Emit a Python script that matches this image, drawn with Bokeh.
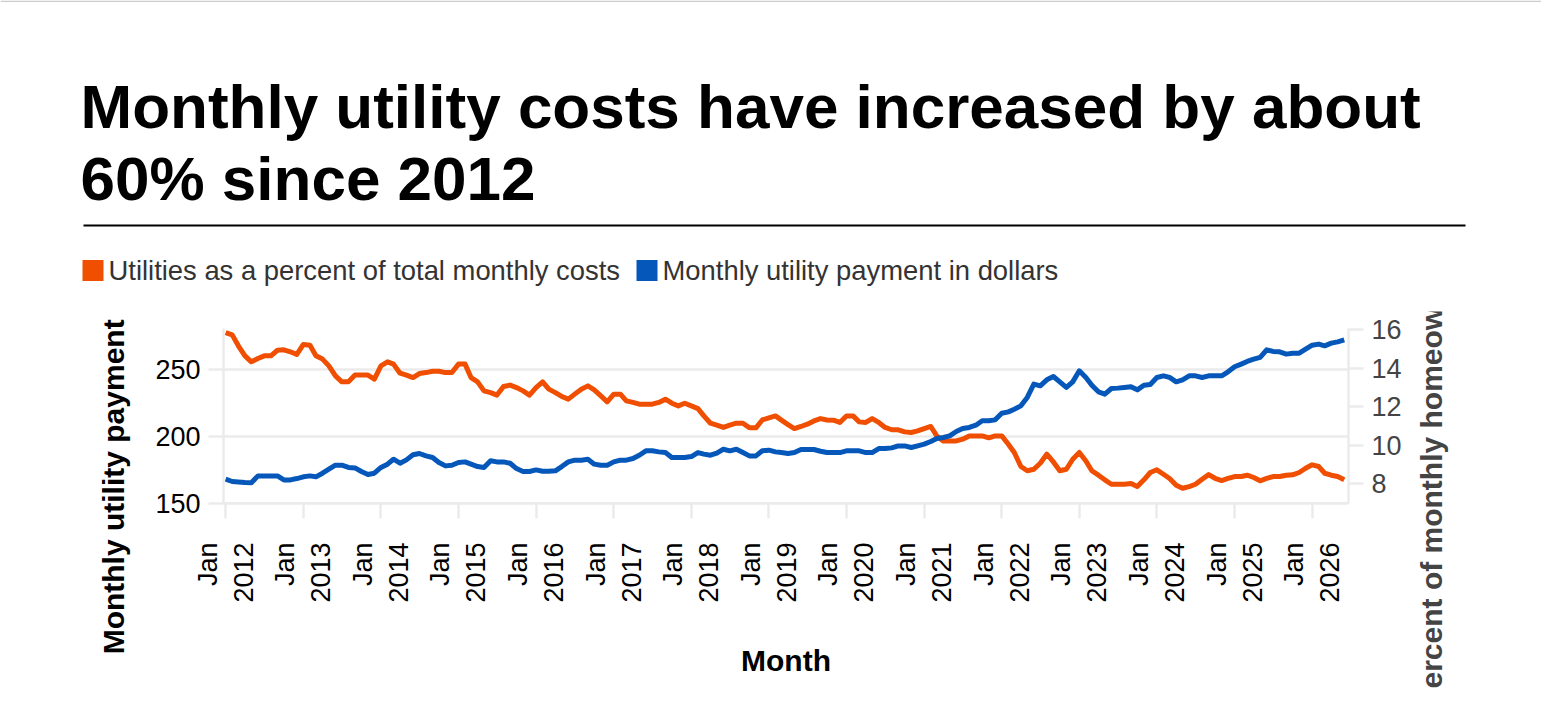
import math
import pandas as pd
from bokeh.plotting import figure
from bokeh.layouts import column, row
from bokeh.models import Range1d, LinearAxis, FixedTicker, DatetimeTickFormatter
from bokeh.core.properties import value
from bokeh.embed import file_html
from bokeh.resources import INLINE

# ---- data -------------------------------------------------------------
title_lines = ["Monthly utility costs have increased by about", "60% since 2012"]
series_names = ["Utilities as a percent of total monthly costs",
                "Monthly utility payment in dollars"]
left_title = "Monthly utility payment in dollars"
right_title = "Percent of monthly homeownership costs"
x_title = "Month"
start_month = "2012-01-01"
tick_years = list(range(2012, 2027))
dollar_ticks = [150, 200, 250]
pct_ticks = [8, 10, 12, 14, 16]

# utilities as % of total monthly homeowner costs (right axis)
pct_of_costs = [
    15.86, 15.74, 15.17, 14.65, 14.34, 14.51, 14.65, 14.65, 14.94, 14.96,
    14.86, 14.72, 15.24, 15.20, 14.65, 14.48, 14.13, 13.61, 13.30, 13.30,
    13.65, 13.65, 13.65, 13.44, 14.13, 14.34, 14.22, 13.75, 13.65, 13.52,
    13.73, 13.78, 13.85, 13.85, 13.78, 13.78, 14.22, 14.22, 13.52, 13.30,
    12.83, 12.74, 12.61, 13.06, 13.13, 13.00, 12.83, 12.61, 13.00, 13.30,
    12.92, 12.74, 12.54, 12.40, 12.66, 12.92, 13.09, 12.88, 12.57, 12.26,
    12.66, 12.66, 12.31, 12.23, 12.14, 12.14, 12.14, 12.23, 12.40, 12.19,
    12.05, 12.19, 12.05, 11.91, 11.53, 11.15, 11.05, 10.93, 11.05, 11.15,
    11.15, 10.91, 10.91, 11.32, 11.43, 11.53, 11.31, 11.08, 10.87, 10.98,
    11.10, 11.27, 11.39, 11.32, 11.31, 11.19, 11.53, 11.53, 11.22, 11.19,
    11.39, 11.19, 10.93, 10.81, 10.81, 10.70, 10.67, 10.75, 10.87, 10.98,
    10.49, 10.23, 10.23, 10.23, 10.32, 10.49, 10.49, 10.49, 10.39, 10.49,
    10.49, 10.06, 9.63, 8.90, 8.68, 8.76, 9.07, 9.54, 9.14, 8.68,
    8.76, 9.28, 9.63, 9.19, 8.68, 8.45, 8.21, 7.98, 7.98, 7.98,
    8.02, 7.86, 8.21, 8.59, 8.73, 8.50, 8.28, 7.93, 7.77, 7.86,
    7.98, 8.24, 8.48, 8.29, 8.17, 8.28, 8.38, 8.38, 8.45, 8.33,
    8.16, 8.28, 8.38, 8.38, 8.45, 8.47, 8.59, 8.81, 8.99, 8.90,
    8.55, 8.45, 8.38, 8.21,
]

# monthly utility payment in dollars (left axis)
utility_dollars = [
    168.0, 166.3, 166.0, 165.5, 165.3, 170.5, 170.5, 170.5, 170.5, 167.5,
    167.5, 168.5, 169.8, 170.5, 169.8, 172.5, 175.5, 178.5, 178.5, 176.8,
    176.5, 173.8, 171.5, 172.5, 176.8, 179.3, 183.0, 180.0, 182.5, 186.3,
    187.3, 185.5, 184.3, 180.5, 178.0, 178.5, 180.5, 181.0, 179.3, 177.5,
    176.8, 181.8, 181.0, 181.0, 180.0, 176.0, 173.8, 173.8, 175.0, 174.0,
    174.0, 174.3, 177.5, 181.0, 182.3, 182.3, 183.0, 179.3, 178.5, 178.5,
    181.0, 182.3, 182.3, 183.5, 186.0, 189.3, 189.3, 188.5, 188.0, 184.3,
    184.3, 184.3, 185.0, 188.0, 186.8, 186.0, 187.5, 190.5, 189.3, 190.5,
    188.0, 185.5, 185.5, 189.3, 189.8, 188.5, 188.0, 187.3, 188.0, 190.3,
    190.3, 190.3, 189.0, 188.0, 188.0, 188.0, 189.3, 189.3, 189.3, 188.0,
    188.0, 191.0, 191.0, 191.5, 193.0, 193.0, 191.8, 193.0, 194.3, 196.3,
    198.5, 199.3, 200.5, 203.8, 206.0, 206.8, 208.5, 211.8, 211.8, 212.5,
    217.5, 218.5, 220.5, 223.0, 229.3, 239.3, 238.0, 242.5, 245.0, 241.0,
    236.8, 241.0, 249.3, 244.3, 238.5, 233.5, 231.8, 236.0, 236.3, 236.8,
    237.3, 235.0, 238.5, 239.0, 244.3, 245.5, 244.3, 241.0, 242.5, 245.5,
    245.5, 244.3, 245.5, 245.5, 245.5, 248.5, 252.3, 254.3, 256.3, 258.0,
    259.3, 265.0, 263.8, 263.5, 261.8, 262.5, 262.5, 265.5, 268.5, 269.3,
    268.0, 270.0, 271.0, 272.5,
]

months = pd.date_range(start_month, periods=len(utility_dollars), freq="MS")

ORANGE = "#F04E00"
BLUE = "#0557B9"
GRID = "#EBEBEB"
FONT = "Liberation Sans"

W = 1541
HEAD_H = 311          # header band height
CH_H = 378            # chart band height (clips the long axis titles)
CH_W = 1410           # chart width; the rest of the row holds the right title
SIDE_W = W - CH_W


def no_frame_align(fig):
    if "frame_align" in fig.properties():
        fig.frame_align = False


def bare(width, height, x_rng, y_rng):
    fig = figure(width=width, height=height, x_range=x_rng, y_range=y_rng,
                 x_axis_type=None, y_axis_type=None, output_backend="svg",
                 toolbar_location=None, min_border=0)
    fig.outline_line_color = None
    fig.grid.visible = False
    no_frame_align(fig)
    return fig


# ---- header: title, rule and legend (pixel coordinates, y down) -------
head = bare(W, HEAD_H, Range1d(0, W), Range1d(HEAD_H, 0))
head.segment(x0=[0], y0=[0.75], x1=[W], y1=[0.75], line_color="#CCCCCC", line_width=1.5)
head.text(x=[80, 80], y=[106, 178], text=title_lines,
          text_font=value(FONT), text_font_style="bold", text_font_size="62px",
          text_color="#000000", text_baseline="alphabetic", text_align="left")
head.segment(x0=[83], y0=[225], x1=[1465], y1=[225], line_color="#000000", line_width=2)
head.scatter(x=[92.5, 646.5], y=[270, 270], marker="square", size=21,
             color=[ORANGE, BLUE], line_width=0)
head.text(x=[108, 662], y=[270, 270], text=series_names,
          text_font=value(FONT), text_font_size="27.4px", text_color="#333333",
          text_baseline="middle", text_align="left")

# ---- chart --------------------------------------------------------------
p = figure(width=CH_W, height=CH_H, x_axis_type="datetime",
           x_range=Range1d(pd.Timestamp("2011-12-22"), pd.Timestamp("2026-06-21")),
           y_range=Range1d(149.8, 281),
           output_backend="svg", toolbar_location=None,
           min_border_left=223, min_border_right=CH_W - 1348,
           min_border_top=17, min_border_bottom=186)
p.outline_line_color = None
no_frame_align(p)
p.extra_y_ranges = {"pct": Range1d(6.98, 16.07)}

p.xgrid.grid_line_color = None
p.ygrid.ticker = FixedTicker(ticks=dollar_ticks)
p.ygrid.grid_line_color = GRID
p.ygrid.grid_line_width = 2.5


def style_axis(ax, label_color):
    ax.axis_line_color = GRID
    ax.axis_line_width = 2.5
    ax.major_tick_line_color = GRID
    ax.major_tick_line_width = 2.5
    ax.major_tick_in = 0
    ax.major_tick_out = 15
    ax.minor_tick_line_color = None
    ax.major_label_text_font = FONT
    ax.major_label_text_font_size = "27px"
    ax.major_label_text_color = label_color
    ax.axis_label_text_font = FONT
    ax.axis_label_text_font_style = "bold"
    ax.axis_label_text_font_size = "30px"


xa = p.xaxis[0]
style_axis(xa, "#000000")
xa.ticker = FixedTicker(ticks=[pd.Timestamp(f"{y}-01-01").value // 10**6 for y in tick_years])
fmt = "%b\n%Y"
xa.formatter = DatetimeTickFormatter(years=fmt, months=fmt, days=fmt, hours=fmt,
                                     minutes=fmt, seconds=fmt, milliseconds=fmt,
                                     microseconds=fmt)
xa.major_label_orientation = math.pi / 2
xa.major_label_standoff = 24
xa.axis_label = x_title
xa.axis_label_text_color = "#000000"
xa.axis_label_standoff = 38

ya = p.yaxis[0]
style_axis(ya, "#000000")
ya.ticker = FixedTicker(ticks=dollar_ticks)
ya.major_label_standoff = 8
ya.axis_label = left_title
ya.axis_label_text_color = "#000000"
ya.axis_label_standoff = 22

ra = LinearAxis(y_range_name="pct", ticker=FixedTicker(ticks=pct_ticks))
style_axis(ra, "#444444")
ra.major_label_standoff = 8
p.add_layout(ra, "right")

p.line(months, pct_of_costs, y_range_name="pct", line_color=ORANGE, line_width=5,
       line_join="round")
p.line(months, utility_dollars, line_color=BLUE, line_width=5, line_join="round")

# ---- right-hand axis title, reading upward (pixel coordinates, y up) ----
side = bare(SIDE_W, CH_H, Range1d(0, SIDE_W), Range1d(0, CH_H))
side.text(x=[1431 - CH_W], y=[-19], text=[right_title], angle=math.pi / 2,
          text_font=value(FONT), text_font_style="bold", text_font_size="30px",
          text_color="#444444", text_align="left", text_baseline="alphabetic")

layout = column(head, row(p, side, spacing=0), spacing=0)
open("out.html", "w").write(file_html(layout, INLINE))
